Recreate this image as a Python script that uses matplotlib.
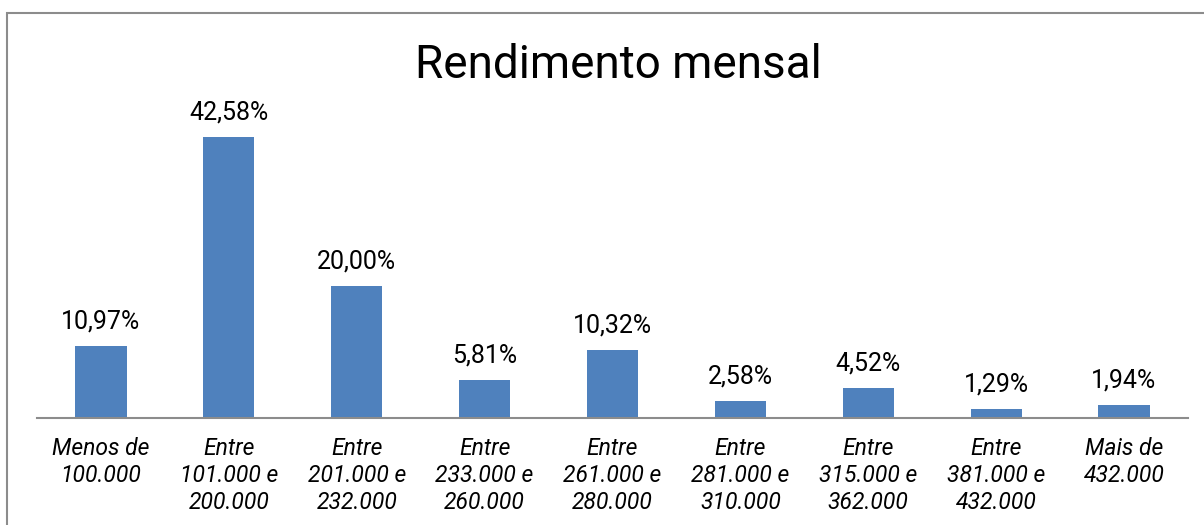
import matplotlib.pyplot as plt
from matplotlib.patches import Rectangle

categories = [
    "Menos de\n100.000",
    "Entre\n101.000 e\n200.000",
    "Entre\n201.000 e\n232.000",
    "Entre\n233.000 e\n260.000",
    "Entre\n261.000 e\n280.000",
    "Entre\n281.000 e\n310.000",
    "Entre\n315.000 e\n362.000",
    "Entre\n381.000 e\n432.000",
    "Mais de\n432.000",
]
shares = [10.97, 42.58, 20.00, 5.81, 10.32, 2.58, 4.52, 1.29, 1.94]

plt.rcParams["font.family"] = ["Roboto", "DejaVu Sans"]

fig = plt.figure(figsize=(12.04, 5.25), dpi=100)
ax = fig.add_axes([37 / 1204, 107 / 525, 1151 / 1204, 297 / 525])

# outer chart frame
fig.patches.append(Rectangle((7 / 1204, -0.1), 1.2, (512 + 0.1 * 525) / 525,
                             transform=fig.transFigure, fill=False,
                             edgecolor="#8c8c8c", linewidth=1.5))

x = range(len(categories))
bars = ax.bar(x, shares, width=0.4, color="#4F81BD")
ax.set_xlim(-0.5, len(categories) - 0.5)
ax.set_ylim(0, 45)

for bar, v in zip(bars, shares):
    ax.annotate(f"{v:.2f}%".replace(".", ","),
                (bar.get_x() + bar.get_width() / 2, bar.get_height()),
                xytext=(0, 9), textcoords="offset points",
                ha="center", va="bottom", fontsize=18)

ax.set_xticks(list(x))
ax.set_xticklabels(categories, fontsize=16.5, style="italic", linespacing=1.2)
ax.tick_params(axis="x", length=0, pad=14)
ax.set_yticks([])
for s in ["top", "right", "left"]:
    ax.spines[s].set_visible(False)
ax.spines["bottom"].set_color("#8c8c8c")
ax.spines["bottom"].set_linewidth(1.5)

fig.text(618 / 1204, 1 - 65 / 525, "Rendimento mensal", ha="center",
         va="center", fontsize=33)

fig.savefig("out.png", dpi=100)
